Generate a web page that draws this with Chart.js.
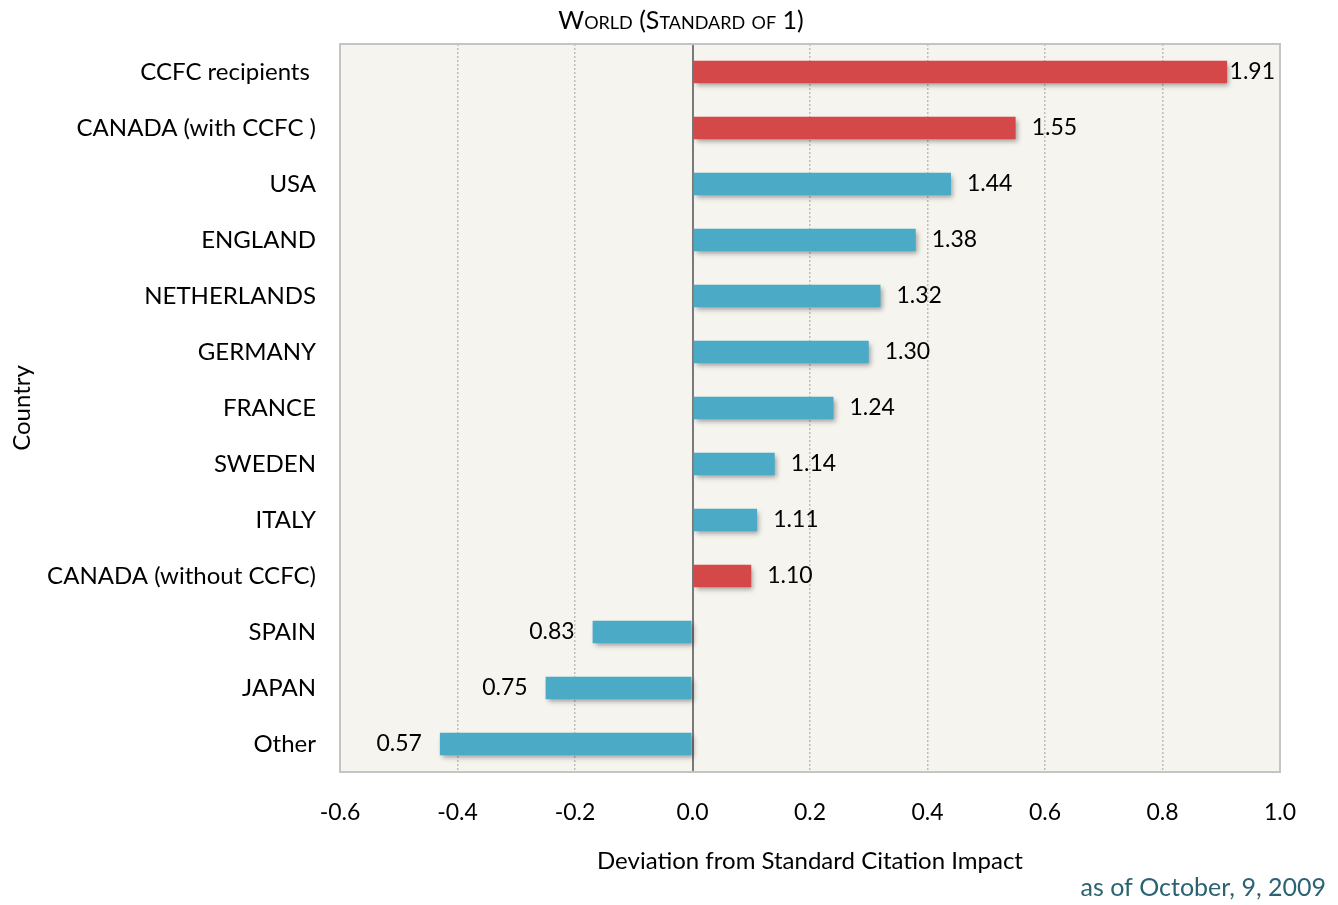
<!DOCTYPE html>
<html>
<head>
<meta charset="utf-8">
<title>Citation impact</title>
<script src="https://cdn.jsdelivr.net/npm/chart.js@4/dist/chart.umd.min.js"></script>
<style>
  html, body { margin: 0; padding: 0; background: #fff; }
  #wrap { width: 1338px; height: 905px; }
</style>
</head>
<body>
<div id="wrap"><canvas id="chart"></canvas></div>
<script>
// categories, top to bottom
var countries = ["CCFC recipients ", "CANADA (with CCFC )", "USA", "ENGLAND", "NETHERLANDS", "GERMANY",
  "FRANCE", "SWEDEN", "ITALY", "CANADA (without CCFC)", "SPAIN", "JAPAN", "Other"];
// citation impact (world standard = 1)
var impact = [1.91, 1.55, 1.44, 1.38, 1.32, 1.30, 1.24, 1.14, 1.11, 1.10, 0.83, 0.75, 0.57];
var isCanada = [true, true, false, false, false, false, false, false, false, true, false, false, false];
var xTicks = [-0.6, -0.4, -0.2, 0.0, 0.2, 0.4, 0.6, 0.8, 1.0];

var RED = "#D5484A";
var BLUE = "#4BABC6";
var FONT = "Lato, 'Open Sans', sans-serif";

// bars show deviation from the standard of 1
var deviation = impact.map(function (v) { return +(v - 1).toFixed(2); });

var plotBg = {
  id: "plotBg",
  beforeDraw: function (chart) {
    var a = chart.chartArea, ctx = chart.ctx;
    ctx.save();
    ctx.fillStyle = "#F5F4EF";
    ctx.fillRect(a.left, a.top, a.right - a.left, a.bottom - a.top);
    ctx.restore();
  },
  afterDraw: function (chart) {
    var a = chart.chartArea, ctx = chart.ctx;
    ctx.save();
    ctx.strokeStyle = "#C4C4C4";
    ctx.lineWidth = 2;
    ctx.strokeRect(a.left, a.top, a.right - a.left, a.bottom - a.top);
    ctx.fillStyle = "#000";
    ctx.textAlign = "center";
    ctx.textBaseline = "middle";
    // title, small caps
    ctx.font = "small-caps 25px " + FONT;
    ctx.fillText("World (Standard of 1)", 681, 21);
    // footnote
    ctx.fillStyle = "#2B6373";
    ctx.font = "25px " + FONT;
    ctx.textAlign = "right";
    ctx.fillText("as of October, 9, 2009", chart.width - 12, 888);
    ctx.restore();
  }
};

var barShadow = {
  id: "barShadow",
  beforeDatasetsDraw: function (chart) {
    var ctx = chart.ctx;
    ctx.save();
    ctx.shadowColor = "rgba(0,0,0,0.35)";
    ctx.shadowBlur = 5;
    ctx.shadowOffsetX = 2;
    ctx.shadowOffsetY = 3;
  },
  afterDatasetsDraw: function (chart) {
    chart.ctx.restore();
  }
};

var valueLabels = {
  id: "valueLabels",
  afterDatasetsDraw: function (chart) {
    var ctx = chart.ctx;
    var meta = chart.getDatasetMeta(0);
    ctx.save();
    ctx.fillStyle = "#000";
    ctx.font = "23px " + FONT;
    ctx.textBaseline = "middle";
    meta.data.forEach(function (bar, i) {
      var txt = impact[i].toFixed(2);
      if (deviation[i] >= 0) {
        ctx.textAlign = "left";
        var w = ctx.measureText(txt).width;
        var x = Math.min(bar.x + 16, chart.chartArea.right - 5 - w);
        ctx.fillText(txt, x, bar.y);
      } else {
        ctx.textAlign = "right";
        ctx.fillText(txt, bar.x - 18, bar.y);
      }
    });
    ctx.restore();
  }
};

new Chart(document.getElementById("chart"), {
  type: "bar",
  data: {
    labels: countries,
    datasets: [{
      data: deviation,
      backgroundColor: isCanada.map(function (c) { return c ? RED : BLUE; }),
      borderWidth: 0,
      barPercentage: 0.4,
      categoryPercentage: 1.0
    }]
  },
  options: {
    indexAxis: "y",
    responsive: true,
    maintainAspectRatio: false,
    animation: false,
    layout: { padding: { left: 0, right: 58, top: 44, bottom: 28 } },
    plugins: {
      legend: { display: false },
      tooltip: { enabled: false },
      title: { display: false }
    },
    scales: {
      x: {
        min: -0.6,
        max: 1.0,
        afterBuildTicks: function (scale) {
          scale.ticks = xTicks.map(function (v) { return { value: v }; });
        },
        afterFit: function (scale) { scale.height = 105; },
        ticks: {
          color: "#000",
          padding: 27,
          font: { family: FONT, size: 23 },
          callback: function (v) { return Number(v).toFixed(1); }
        },
        grid: {
          drawTicks: false,
          color: function (c) { return c.tick && c.tick.value === 0 ? "#7A7A7A" : "#BDBDBD"; },
          lineWidth: function (c) { return c.tick && c.tick.value === 0 ? 2 : 1.5; }
        },
        border: {
          display: false,
          dash: function (c) { return c.tick && c.tick.value === 0 ? [] : [2, 2]; }
        },
        title: {
          display: true,
          text: "Deviation from Standard Citation Impact",
          color: "#000",
          font: { family: FONT, size: 24 },
          padding: { top: 0, bottom: 1 }
        }
      },
      y: {
        afterFit: function (scale) { scale.width = 340; },
        ticks: {
          color: "#000",
          padding: 24,
          font: { family: FONT, size: 24 }
        },
        grid: { display: false, drawTicks: false },
        border: { display: false },
        title: {
          display: true,
          text: "Country",
          color: "#000",
          font: { family: FONT, size: 24 },
          padding: { top: 8, bottom: 0 }
        }
      }
    }
  },
  plugins: [plotBg, barShadow, valueLabels]
});
</script>
</body>
</html>
